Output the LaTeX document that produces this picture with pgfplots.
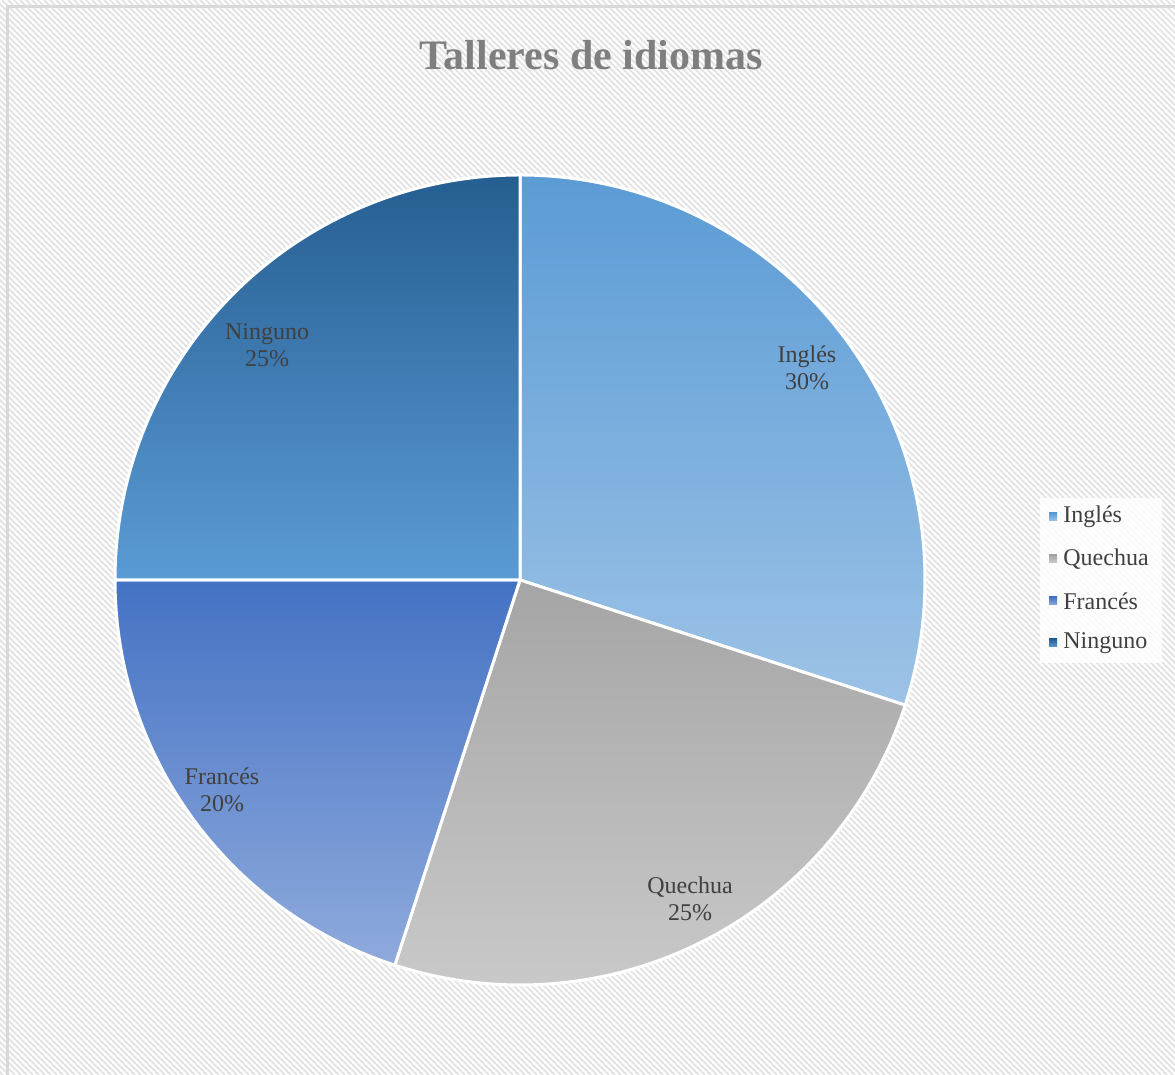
\documentclass[border=0pt]{standalone}
\usepackage{pgfplots}
\pgfplotsset{compat=1.18}
\usepackage{fontspec}
\setmainfont{Liberation Serif}
\usetikzlibrary{calc}

\definecolor{ingtop}{HTML}{5B9BD5}
\definecolor{ingbot}{HTML}{9DC3E6}
\definecolor{quetop}{HTML}{A5A5A5}
\definecolor{quebot}{HTML}{C9C9C9}
\definecolor{fratop}{HTML}{4472C4}
\definecolor{frabot}{HTML}{8FAADC}
\definecolor{nintop}{HTML}{255E91}
\definecolor{ninbot}{HTML}{5B9BD5}
\definecolor{labtxt}{HTML}{404040}
\definecolor{titletxt}{HTML}{7F7F7F}
\definecolor{hatch}{HTML}{E4E4E4}
\definecolor{frame}{HTML}{D9D9D9}

% slice shares (percent), clockwise from 12 o'clock
\def\vIng{30}
\def\vQue{25}
\def\vFra{20}
\def\vNin{25}
\pgfmathsetmacro\aA{90}
\pgfmathsetmacro\aB{\aA-3.6*\vIng}
\pgfmathsetmacro\aC{\aB-3.6*\vQue}
\pgfmathsetmacro\aD{\aC-3.6*\vFra}
\pgfmathsetmacro\aE{\aD-3.6*\vNin}
\def\R{202.5pt}

\newcommand{\slice}[4]{%
  \fill[top color=#3, bottom color=#4] (axis cs:520,495) -- ++(#1:\R)
    arc[start angle=#1, end angle=#2, radius=\R] -- cycle;
  \draw[white, line width=1.5pt, line join=round] (axis cs:520,495) -- ++(#1:\R)
    arc[start angle=#1, end angle=#2, radius=\R] -- cycle;}

\begin{document}
\begin{tikzpicture}
% background: white with fine diagonal hatching
\useasboundingbox (0,0) rectangle (587.5pt,537.5pt);
\fill[white] (0,0) rectangle (587.5pt,537.5pt);
\begin{scope}
  \clip (0,0) rectangle (587.5pt,537.5pt);
  \foreach \k in {-560,-557,...,590}
    \draw[hatch, line width=0.9pt] (\k pt,537.5pt) -- ++(537.5pt,-537.5pt);
  \draw[frame, line width=1.5pt] (3.5pt,-5pt) rectangle (595pt,534pt);
\end{scope}

\begin{axis}[
    x=0.5pt, y=0.5pt,
    xmin=0, xmax=1175, ymin=0, ymax=1075,
    scale only axis,
    hide axis,
    clip=false,
]
% title
\node[font=\bfseries\fontsize{21}{25}\selectfont, text=titletxt]
  at (axis cs:591,1020) {Talleres de idiomas};

% pie slices
\slice{\aA}{\aB}{ingtop}{ingbot}
\slice{\aB}{\aC}{quetop}{quebot}
\slice{\aC}{\aD}{fratop}{frabot}
\slice{\aD}{\aE}{nintop}{ninbot}

% data labels
\begin{scope}[every node/.style={align=center, text=labtxt,
    font=\fontsize{12}{13.5}\selectfont}]
\node at (axis cs:807,707) {Inglés\\30\%};
\node at (axis cs:690,176) {Quechua\\25\%};
\node at (axis cs:222,285) {Francés\\20\%};
\node at (axis cs:267,730) {Ninguno\\25\%};
\end{scope}

% legend
\fill[white, opacity=0.85] (axis cs:1040,577) rectangle (axis cs:1162,412);
\begin{scope}[every node/.style={anchor=west, text=labtxt,
    font=\fontsize{12}{14}\selectfont, inner sep=0pt}]
\fill[top color=ingtop, bottom color=ingbot] (axis cs:1049,562) rectangle (axis cs:1057,554);
\node at (axis cs:1063,558) {Inglés};
\fill[top color=quetop, bottom color=quebot] (axis cs:1049,520) rectangle (axis cs:1057,512);
\node at (axis cs:1063,516) {Quechua};
\fill[top color=fratop, bottom color=frabot] (axis cs:1049,478) rectangle (axis cs:1057,470);
\node at (axis cs:1063,474) {Francés};
\fill[top color=nintop, bottom color=ninbot] (axis cs:1049,436) rectangle (axis cs:1057,428);
\node at (axis cs:1063,432) {Ninguno};
\end{scope}
\end{axis}
\end{tikzpicture}
\end{document}
